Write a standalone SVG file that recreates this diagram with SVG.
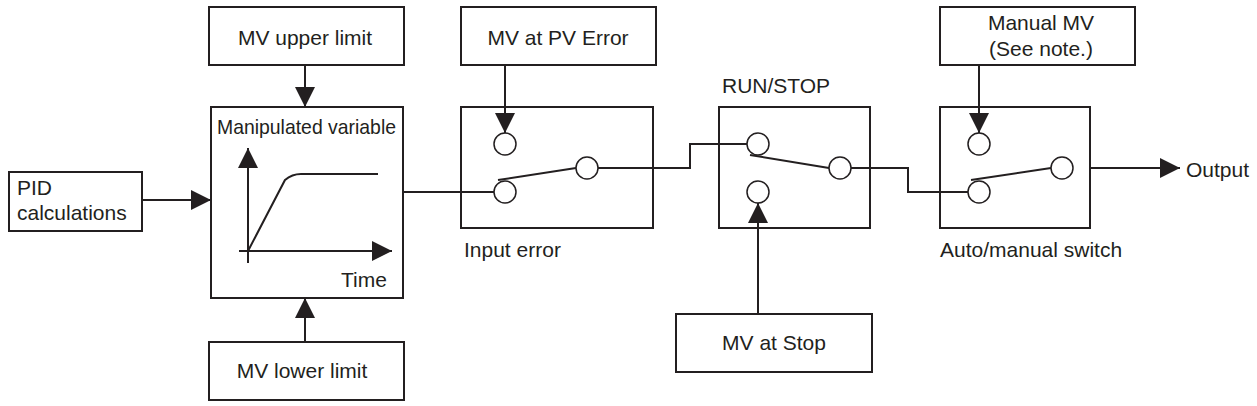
<svg xmlns="http://www.w3.org/2000/svg" width="1257" height="406" viewBox="0 0 1257 406">
<style>
.b{fill:#fff;stroke:#231f20;stroke-width:2}
.c{fill:#fff;stroke:#231f20;stroke-width:1.5}
.l{fill:none;stroke:#231f20;stroke-width:2}
text{font-family:"Liberation Sans",Arial,sans-serif;font-size:21px;fill:#231f20}
.m{text-anchor:middle}
</style>
<defs>
<marker id="ab" markerWidth="20" markerHeight="20" refX="20" refY="10" orient="auto" markerUnits="userSpaceOnUse" viewBox="0 0 20 20"><path d="M0,0 L20,10 L0,20 z" fill="#231f20"/></marker>
</defs>
<rect width="1257" height="406" fill="#fff"/>
<g id="mv-upper"><rect class="b" x="209" y="7" width="195" height="58"/><text class="m" x="305" y="45">MV upper limit</text></g>
<g id="pid"><rect class="b" x="9" y="172" width="133" height="59"/><text x="17" y="195">PID</text><text x="17" y="220">calculations</text></g>
<g id="graph">
<rect class="b" x="211" y="107" width="192" height="191"/>
<text x="217" y="134" textLength="179" lengthAdjust="spacingAndGlyphs">Manipulated variable</text>
<line class="l" x1="248" y1="263" x2="248" y2="148" marker-end="url(#ab)"/>
<line class="l" x1="239" y1="251" x2="392" y2="251" marker-end="url(#ab)"/>
<path class="l" d="M248,251 L285,180 Q292,174 301,174 L378,174"/>
<text x="341" y="287">Time</text>
</g>
<g id="mv-lower"><rect class="b" x="209" y="342" width="195" height="58"/><text class="m" x="302" y="378">MV lower limit</text></g>
<g id="mv-pv-error"><rect class="b" x="461" y="7" width="195" height="58"/><text class="m" x="558" y="45">MV at PV Error</text></g>
<g id="input-error">
<rect class="b" x="461" y="107" width="192" height="121"/>
<circle class="c" cx="505" cy="144" r="11"/>
<circle class="c" cx="505" cy="192" r="11"/>
<circle class="c" cx="587" cy="168" r="11"/>
<line class="l" x1="498" y1="180" x2="576" y2="168"/>
<text x="464" y="257">Input error</text>
</g>
<g id="run-stop">
<text x="722" y="93">RUN/STOP</text>
<rect class="b" x="719" y="107" width="151" height="121"/>
<circle class="c" cx="758" cy="144" r="11"/>
<circle class="c" cx="758" cy="192" r="11"/>
<circle class="c" cx="840" cy="168" r="11"/>
<line class="l" x1="750" y1="155" x2="829" y2="168"/>
</g>
<g id="mv-stop"><rect class="b" x="676" y="314" width="196" height="58"/><text class="m" x="774" y="350">MV at Stop</text></g>
<g id="manual-mv"><rect class="b" x="940" y="7" width="195" height="58"/><text class="m" x="1041" y="30">Manual MV</text><text class="m" x="1041" y="56">(See note.)</text></g>
<g id="auto-manual">
<rect class="b" x="940" y="107" width="150" height="121"/>
<circle class="c" cx="979" cy="144" r="11"/>
<circle class="c" cx="979" cy="192" r="11"/>
<circle class="c" cx="1062" cy="168" r="11"/>
<line class="l" x1="971" y1="180" x2="1051" y2="168"/>
<text x="940" y="257">Auto/manual switch</text>
</g>
<g id="output"><text x="1186" y="177">Output</text></g>
<g id="connectors">
<line class="l" x1="305" y1="65" x2="305" y2="107" marker-end="url(#ab)"/>
<line class="l" x1="305" y1="342" x2="305" y2="298" marker-end="url(#ab)"/>
<line class="l" x1="142" y1="200" x2="211" y2="200" marker-end="url(#ab)"/>
<line class="l" x1="505" y1="65" x2="505" y2="133" marker-end="url(#ab)"/>
<polyline class="l" points="403,192 494,192"/>
<polyline class="l" points="598,168 690,168 690,144 747,144"/>
<line class="l" x1="758" y1="314" x2="758" y2="203" marker-end="url(#ab)"/>
<polyline class="l" points="851,168 908,168 908,192 968,192"/>
<line class="l" x1="979" y1="65" x2="979" y2="133" marker-end="url(#ab)"/>
<line class="l" x1="1090" y1="168" x2="1180" y2="168" marker-end="url(#ab)"/>
</g>
</svg>
